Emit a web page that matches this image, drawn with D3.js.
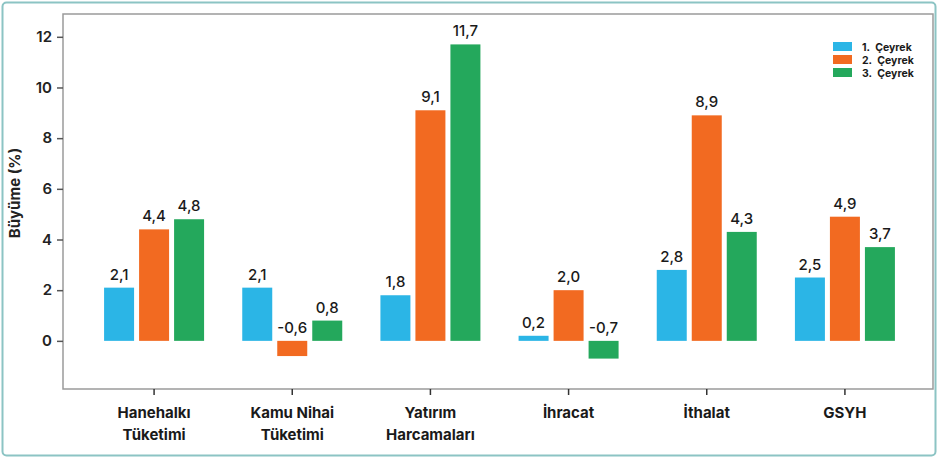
<!DOCTYPE html>
<html>
<head>
<meta charset="utf-8">
<script src="https://cdn.jsdelivr.net/npm/d3@7"></script>
<style>
  body { margin: 0; background: #fff; }
  svg { font-family: "Inter", "Open Sans", sans-serif; }
</style>
</head>
<body>
<script>
const categories = [["Hanehalkı", "Tüketimi"], ["Kamu Nihai", "Tüketimi"], ["Yatırım", "Harcamaları"], ["İhracat"], ["İthalat"], ["GSYH"]];
const seriesNames = ["1. Çeyrek", "2. Çeyrek", "3. Çeyrek"];
const q1 = [2.1, 2.1, 1.8, 0.2, 2.8, 2.5];
const q2 = [4.4, -0.6, 9.1, 2.0, 8.9, 4.9];
const q3 = [4.8, 0.8, 11.7, -0.7, 4.3, 3.7];
const yTicks = [0, 2, 4, 6, 8, 10, 12];
const colors = ["#2bb5e6", "#f26a21", "#24a85c"];

const width = 938, height = 458;
const frame = { left: 63, right: 933, top: 14, bottom: 389 };

const svg = d3.select("body").append("svg").attr("width", width).attr("height", height);

// outer border
svg.append("rect")
    .attr("x", 2.5).attr("y", 2.5).attr("width", width - 5).attr("height", height - 5)
    .attr("rx", 4)
    .attr("fill", "none").attr("stroke", "#8cc4c4").attr("stroke-width", 2);

// plot frame
svg.append("rect")
    .attr("x", frame.left).attr("y", frame.top)
    .attr("width", frame.right - frame.left).attr("height", frame.bottom - frame.top)
    .attr("fill", "none").attr("stroke", "#9a9a9a").attr("stroke-width", 1.5);

const keys = categories.map(c => c.join(" "));
const x = d3.scaleBand().domain(keys).range([85, 914]);
const xs = d3.scaleBand().domain(seriesNames).range([0, 100]).paddingInner(0.143);
const y = d3.scaleLinear().domain([-1.9, 12.9]).range([frame.bottom, frame.top]);

const values = [q1, q2, q3];

// y axis
const yAxis = svg.append("g")
    .attr("transform", "translate(" + frame.left + ",0)")
    .call(d3.axisLeft(y).tickValues(yTicks).tickSize(6).tickPadding(5));
yAxis.select(".domain").remove();
yAxis.selectAll(".tick line").attr("stroke", "#555").attr("stroke-width", 1.5);
yAxis.selectAll(".tick text")
    .attr("font-size", 15).attr("font-weight", 600).attr("fill", "#222")
    .attr("font-family", "Inter, sans-serif");

svg.append("text")
    .attr("transform", "translate(20,193) rotate(-90)")
    .attr("text-anchor", "middle")
    .attr("font-size", 15).attr("font-weight", 700).attr("fill", "#222")
    .text("Büyüme (%)");

// x ticks and labels
const xg = svg.append("g");
keys.forEach((k, i) => {
  const cx = x(k) + x.bandwidth() / 2;
  xg.append("line")
      .attr("x1", cx).attr("x2", cx).attr("y1", frame.bottom).attr("y2", frame.bottom + 6)
      .attr("stroke", "#333").attr("stroke-width", 1.5);
  const t = xg.append("text")
      .attr("x", cx).attr("y", 418)
      .attr("text-anchor", "middle")
      .attr("font-size", 15).attr("font-weight", 700).attr("fill", "#1a1a1a");
  categories[i].forEach((line, j) => {
    t.append("tspan").attr("x", cx).attr("dy", j === 0 ? 0 : 22).text(line);
  });
});

// bars
const fmt = v => d3.format(".1f")(v).replace(".", ",").replace("−", "-");
values.forEach((vals, s) => {
  const g = svg.append("g");
  const off = (x.bandwidth() - xs.range()[1]) / 2 + xs(seriesNames[s]);
  g.selectAll("rect")
    .data(vals)
    .enter().append("rect")
      .attr("x", (d, i) => x(keys[i]) + off)
      .attr("y", d => y(Math.max(d, 0)))
      .attr("width", xs.bandwidth())
      .attr("height", d => Math.abs(y(d) - y(0)))
      .attr("fill", colors[s]);
  g.selectAll("text")
    .data(vals)
    .enter().append("text")
      .attr("x", (d, i) => x(keys[i]) + off + xs.bandwidth() / 2)
      .attr("y", d => y(Math.max(d, 0)) - 8)
      .attr("text-anchor", "middle")
      .attr("font-size", 15).attr("font-weight", 500).attr("fill", "#1a1a1a")
      .text(d => fmt(d));
});

// legend
const legend = svg.append("g").attr("transform", "translate(833,42)");
seriesNames.forEach((name, i) => {
  legend.append("rect")
      .attr("x", 0).attr("y", i * 13).attr("width", 19).attr("height", 9)
      .attr("fill", colors[i]);
  legend.append("text")
      .attr("x", 29).attr("y", i * 13 + 8.5)
      .attr("font-size", 10.5).attr("font-weight", 700).attr("fill", "#1a1a1a")
      .attr("word-spacing", 3)
      .text(name);
});
</script>
</body>
</html>
